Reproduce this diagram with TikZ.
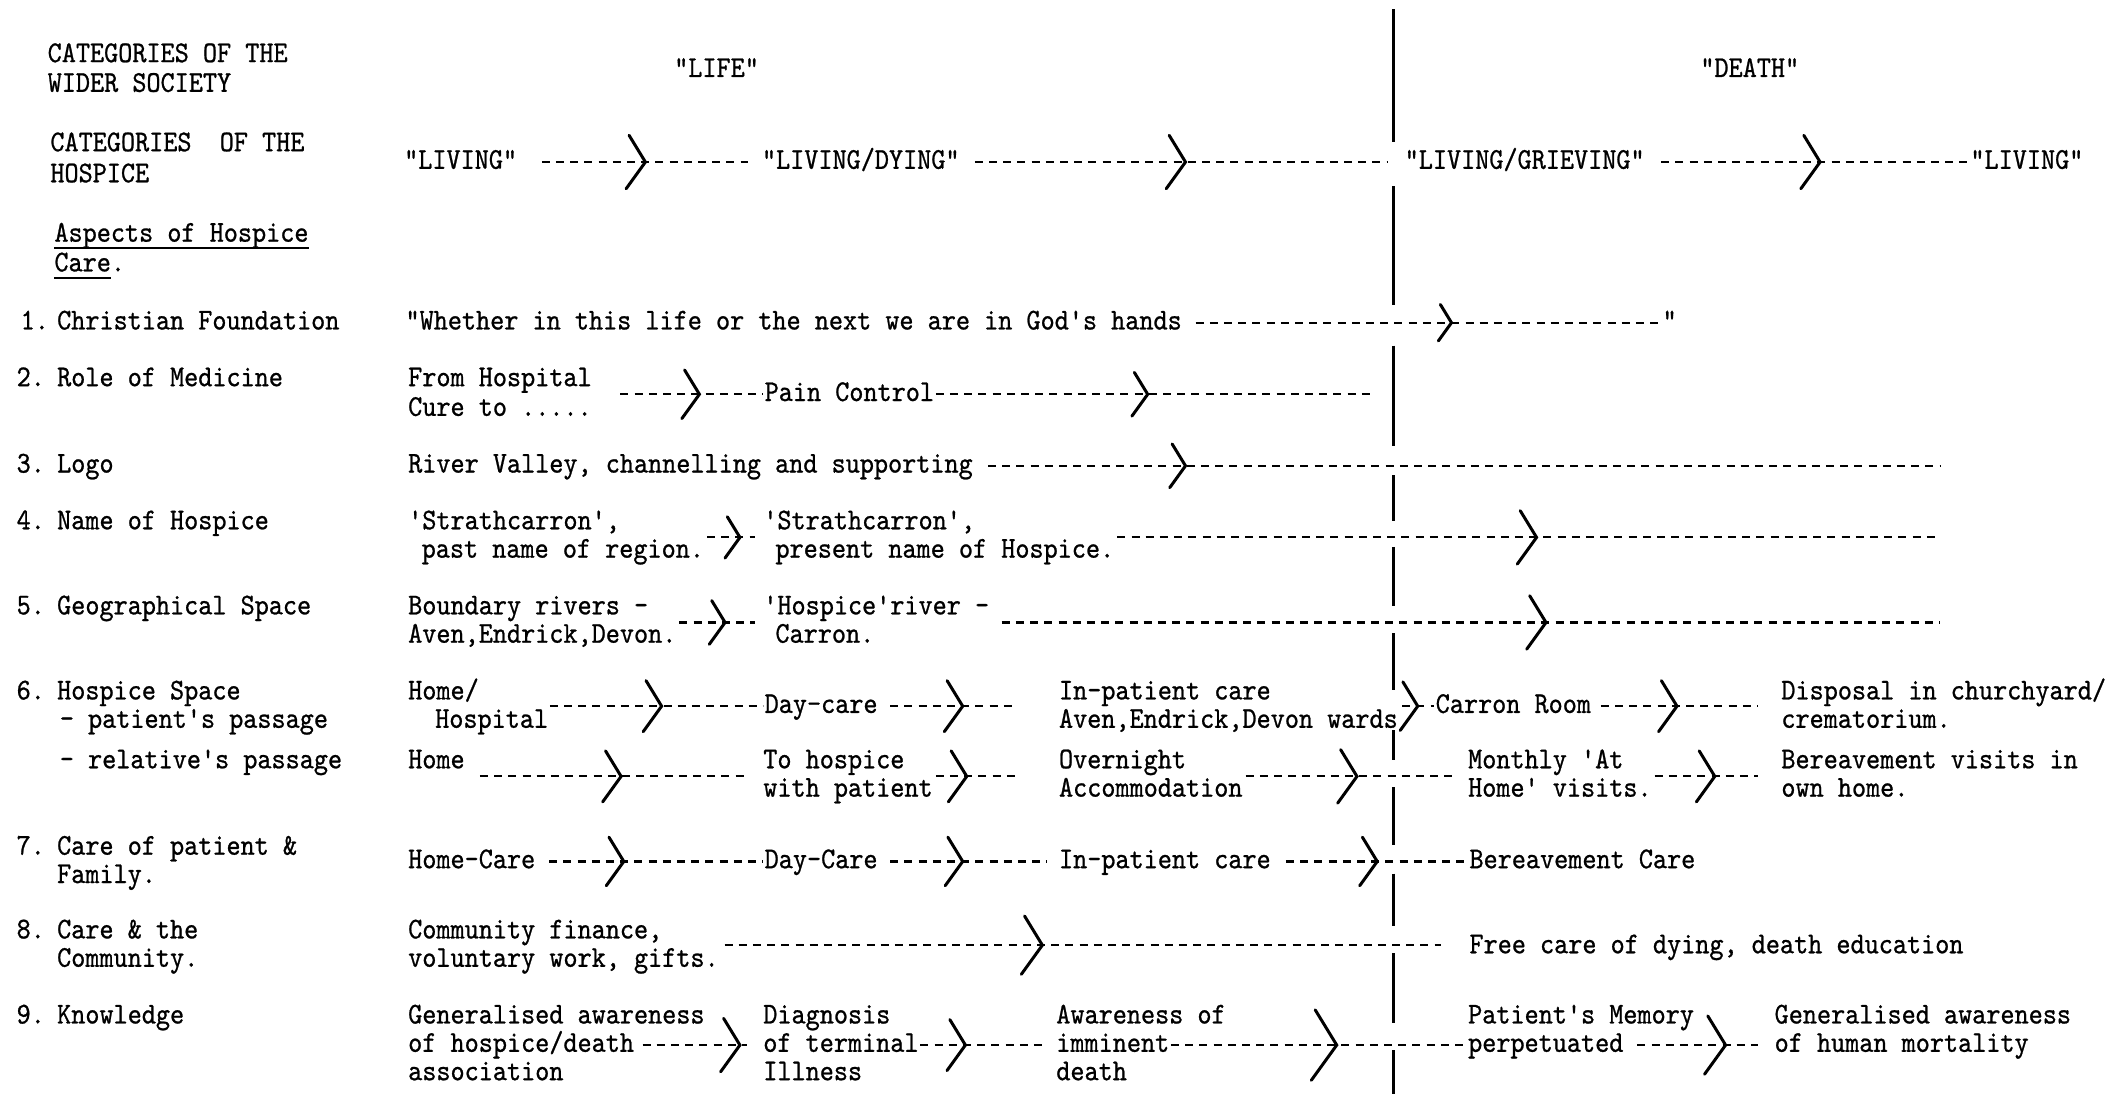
\documentclass[tikz,border=0pt]{standalone}
\usepackage{fontspec}
\newfontfamily\twf[FakeStretch=0.89,FakeBold=0.8]{lmmono10-regular.otf}
\usetikzlibrary{calc}
\newcommand\tw{\twf\fontsize{15.1}{14.2}\selectfont}
\newcommand\chv[2][1]{\draw[chev] ($(#2)+({-11*#1},{-18*#1})$) -- (#2) -- ($(#2)+({-13*#1},{18*#1})$);}
\begin{document}
\begin{tikzpicture}[x=0.675pt,y=-0.675pt,
  tx/.style={inner sep=0pt, anchor=base west, font=\tw, xshift=-2pt},
  flow/.style={line width=1.1pt, dash pattern=on 4pt off 3.1pt},
  chev/.style={line width=1.5pt, line cap=round, line join=miter},
  divider/.style={line width=1.3pt},
  uline/.style={line width=1pt}]
\useasboundingbox (0,0) rectangle (1559,810);

% ---------- headers
\node[tx] (h1a) at (38,46) {CATEGORIES OF THE};
\node[tx] (h1b) at (38,68) {WIDER SOCIETY};
\node[tx] (life) at (502,57) {"LIFE"};
\node[tx] (death) at (1262,57) {"DEATH"};
\node[tx] (h2a) at (40,112) {CATEGORIES\ \ OF THE};
\node[tx] (h2b) at (40,135) {HOSPICE};
\node[tx] (asp1) at (43,179) {Aspects of Hospice};
\node[tx] (asp2) at (43,201) {Care.};
\draw[uline] ($(asp1.base west)+(0,5)$) -- ($(asp1.base east)+(0,5)$);
\draw[uline] ($(asp2.base west)+(0,5)$) -- ++(42,0);

% ---------- divider
\foreach \a/\b in {7/105,138/226,256/330,352/386,405/449,469/511,541/563,583/626,647/686,706/758,778/810}
  \draw[divider] (1032,\a) -- (1032,\b);

% ---------- LIVING row
\node[tx] (liv1) at (302,125) {"LIVING"};
\node[tx] (livdy) at (567,125) {"LIVING/DYING"};
\node[tx] (livgr) at (1043,125) {"LIVING/GRIEVING"};
\node[tx] (liv2) at (1462,125) {"LIVING"};
\coordinate (rL) at (0,120);
\draw[flow] ($(liv1.east|-rL)+(18,0)$) -- ($(livdy.west|-rL)+(-10,0)$);
\chv[1.1]{478,120}
\draw[flow] ($(livdy.east|-rL)+(11,0)$) -- ($(livgr.west|-rL)+(-12,0)$);
\chv[1.1]{878,120}
\draw[flow] ($(livgr.east|-rL)+(12,0)$) -- ($(liv2.west|-rL)+(-1,0)$);
\chv[1.1]{1348,120}

% ---------- 1
\node[tx] (n1) at (18,244) {1.};
\node[tx] (a1) at (45,244) {Christian Foundation};
\node[tx] (t1) at (303,244) {"Whether in this life or the next we are in God's hands};
\node[tx] (q1) at (1234,244) {"};
\coordinate (r1) at (0,239);
\draw[flow] ($(t1.east|-r1)+(10,0)$) -- ($(q1.west|-r1)+(-1,0)$);
\chv[0.75]{1075,239}

% ---------- 2
\node[tx] (n2) at (15,286) {2.};
\node[tx] (a2) at (45,286) {Role of Medicine};
\node[tx] (t2a) at (305,286) {From Hospital};
\node[tx] (t2b) at (305,308) {Cure to .....};
\node[tx] (pc) at (569,297) {Pain Control};
\coordinate (r2) at (0,292);
\coordinate (e2) at (1018,292);
\draw[flow] ($(t2a.east|-r2)+(21,0)$) -- ($(pc.west|-r2)+(-1,0)$);
\chv{518,292}
\draw[flow] ($(pc.east|-r2)+(1,0)$) -- (e2);
\chv[0.9]{850,292}

% ---------- 3
\node[tx] (n3) at (15,350) {3.};
\node[tx] (a3) at (45,350) {Logo};
\node[tx] (t3) at (305,350) {River Valley, channelling and supporting};
\coordinate (e3) at (1437,345);
\draw[flow] ($(t3.east|-e3)+(11,0)$) -- (e3);
\chv[0.9]{878,345}

% ---------- 4
\node[tx] (n4) at (15,392) {4.};
\node[tx] (a4) at (45,392) {Name of Hospice};
\node[tx] (t4a) at (305,392) {'Strathcarron',};
\node[tx] (t4b) at (315,413) {past name of region.};
\node[tx] (t4c) at (568,392) {'Strathcarron',};
\node[tx] (t4d) at (577,413) {present name of Hospice.};
\coordinate (e4) at (1437,398);
\draw[flow] ($(t4b.east|-e4)+(2,0)$) -- ($(t4c.west|-e4)+(-6,0)$);
\chv[0.85]{548,398}
\draw[flow] ($(t4d.east|-e4)+(2,0)$) -- (e4);
\chv[1.1]{1138,398}

% ---------- 5
\node[tx] (n5) at (15,455) {5.};
\node[tx] (a5) at (45,455) {Geographical Space};
\node[tx] (t5a) at (305,455) {Boundary rivers -};
\node[tx] (t5b) at (305,476) {Aven,Endrick,Devon.};
\node[tx] (t5c) at (568,455) {'Hospice'river -};
\node[tx] (t5d) at (577,476) {Carron.};
\coordinate (e5) at (1437,461);
\draw[flow] ($(t5b.east|-e5)+(2,0)$) -- ($(t5c.west|-e5)+(-6,0)$);
\chv[0.9]{537,461}
\draw[flow] ($(t5c.east|-e5)+(9,0)$) -- (e5);
\chv[1.1]{1145,461}

% ---------- 6
\node[tx] (n6) at (15,518) {6.};
\node[tx] (a6) at (45,518) {Hospice Space};
\node[tx] (a6b) at (47,539) {- patient's passage};
\node[tx] (a6c) at (47,569) {- relative's passage};
% patient's passage
\node[tx] (t6a) at (305,518) {Home/};
\node[tx] (t6b) at (325,539) {Hospital};
\node[tx] (dc) at (569,528) {Day-care};
\node[tx] (ip1) at (787,518) {In-patient care};
\node[tx] (ip2) at (787,539) {Aven,Endrick,Devon wards};
\node[tx] (cr) at (1066,528) {Carron Room};
\node[tx] (dp1) at (1322,518) {Disposal in churchyard/};
\node[tx] (dp2) at (1322,539) {crematorium.};
\coordinate (r6) at (0,523);
\draw[flow] ($(t6b.east|-r6)+(1,0)$) -- ($(dc.west|-r6)+(-1,0)$);
\chv[1.05]{490,523}
\draw[flow] ($(dc.east|-r6)+(9,0)$) -- ($(ip1.west|-r6)+(-32,0)$);
\chv[1.05]{713,523}
\draw[flow] ($(ip2.east|-r6)+(3,0)$) -- ($(cr.west|-r6)+(-1,0)$);
\chv[1.0]{1050,523}
\draw[flow] ($(cr.east|-r6)+(7,0)$) -- ($(dp1.west|-r6)+(-17,0)$);
\chv[1.05]{1242,523}
% relative's passage
\node[tx] (hm) at (305,569) {Home};
\node[tx] (th1) at (568,569) {To hospice};
\node[tx] (th2) at (568,590) {with patient};
\node[tx] (on1) at (787,569) {Overnight};
\node[tx] (on2) at (787,590) {Accommodation};
\node[tx] (mo1) at (1090,569) {Monthly 'At};
\node[tx] (mo2) at (1090,590) {Home' visits.};
\node[tx] (bv1) at (1322,569) {Bereavement visits in};
\node[tx] (bv2) at (1322,590) {own home.};
\coordinate (r6r) at (0,575);
\draw[flow] ($(hm.east|-r6r)+(11,0)$) -- ($(th1.west|-r6r)+(-12,0)$);
\chv[1.05]{460,575}
\draw[flow] ($(th2.east|-r6r)+(2,0)$) -- ($(on1.west|-r6r)+(-32,0)$);
\chv[1.05]{716,575}
\draw[flow] ($(on2.east|-r6r)+(2,0)$) -- ($(mo1.west|-r6r)+(-10,0)$);
\chv[1.1]{1005,575}
\draw[flow] ($(mo2.east|-r6r)+(2,0)$) -- ($(bv1.west|-r6r)+(-17,0)$);
\chv[1.05]{1270,575}

% ---------- 7
\node[tx] (n7) at (15,633) {7.};
\node[tx] (a7a) at (45,633) {Care of patient \&};
\node[tx] (a7b) at (45,654) {Family.};
\node[tx] (hc) at (305,643) {Home-Care};
\node[tx] (dc2) at (569,643) {Day-Care};
\node[tx] (ip3) at (787,643) {In-patient care};
\node[tx] (bc) at (1091,643) {Bereavement Care};
\coordinate (r7) at (0,638);
\draw[flow] ($(hc.east|-r7)+(10,0)$) -- ($(dc2.west|-r7)+(-1,0)$);
\chv{462,638}
\draw[flow] ($(dc2.east|-r7)+(9,0)$) -- ($(ip3.west|-r7)+(-9,0)$);
\chv{713,638}
\draw[flow] ($(ip3.east|-r7)+(11,0)$) -- ($(bc.west|-r7)+(-1,0)$);
\chv{1020,638}

% ---------- 8
\node[tx] (n8) at (15,695) {8.};
\node[tx] (a8a) at (45,695) {Care \& the};
\node[tx] (a8b) at (45,716) {Community.};
\node[tx] (cf1) at (305,695) {Community finance,};
\node[tx] (cf2) at (305,716) {voluntary work, gifts.};
\node[tx] (fc) at (1091,706) {Free care of dying, death education};
\coordinate (r8) at (0,700);
\draw[flow] ($(cf2.east|-r8)+(4,0)$) -- ($(fc.west|-r8)+(-21,0)$);
\chv[1.2]{772,700}

% ---------- 9
\node[tx] (n9) at (15,758) {9.};
\node[tx] (a9) at (45,758) {Knowledge};
\node[tx] (g1) at (305,758) {Generalised awareness};
\node[tx] (g2) at (305,779) {of hospice/death};
\node[tx] (g3) at (305,800) {association};
\node[tx] (dg1) at (568,758) {Diagnosis};
\node[tx] (dg2) at (568,779) {of terminal};
\node[tx] (dg3) at (568,800) {Illness};
\node[tx] (aw1) at (785,758) {Awareness of};
\node[tx] (aw2) at (785,779) {imminent};
\node[tx] (aw3) at (785,800) {death};
\node[tx] (pm1) at (1090,758) {Patient's Memory};
\node[tx] (pm2) at (1090,779) {perpetuated};
\node[tx] (ga1) at (1317,758) {Generalised awareness};
\node[tx] (ga2) at (1317,779) {of human mortality};
\coordinate (r9) at (0,774);
\draw[flow] ($(g2.east|-r9)+(6,0)$) -- ($(dg2.west|-r9)+(-12,0)$);
\chv[1.1]{548,774}
\draw[flow] ($(dg2.east|-r9)+(1,0)$) -- ($(aw2.west|-r9)+(-8,0)$);
\chv[1.05]{715,774}
\draw[flow] ($(aw2.east|-r9)+(1,0)$) -- ($(pm2.west|-r9)+(-2,0)$);
\chv[1.45]{990,774}
\draw[flow] ($(pm2.east|-r9)+(10,0)$) -- ($(ga2.west|-r9)+(-12,0)$);
\chv[1.2]{1278,774}
\end{tikzpicture}
\end{document}
